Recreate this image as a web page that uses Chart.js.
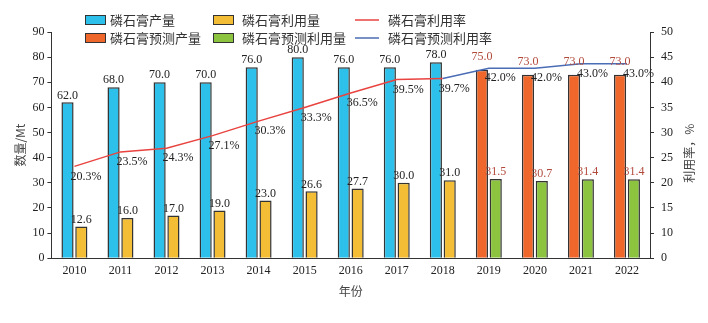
<!DOCTYPE html>
<html>
<head>
<meta charset="utf-8">
<script src="https://cdn.jsdelivr.net/npm/chart.js@4.4.0/dist/chart.umd.min.js"></script>
<style>
body { margin: 0; background: #fff; }
#chart-container { width: 708px; height: 323px; }
</style>
</head>
<body>
<div id="chart-container"><canvas id="mycanvas"></canvas></div>
<script>
var years = ['2010', '2011', '2012', '2013', '2014', '2015', '2016', '2017', '2018', '2019', '2020', '2021', '2022'];
var production = [62.0, 68.0, 70.0, 70.0, 76.0, 80.0, 76.0, 76.0, 78.0, null, null, null, null];
var utilization = [12.6, 16.0, 17.0, 19.0, 23.0, 26.6, 27.7, 30.0, 31.0, null, null, null, null];
var forecastProduction = [null, null, null, null, null, null, null, null, null, 75.0, 73.0, 73.0, 73.0];
var forecastUtilization = [null, null, null, null, null, null, null, null, null, 31.5, 30.7, 31.4, 31.4];
var rate = [20.3, 23.5, 24.3, 27.1, 30.3, 33.3, 36.5, 39.5, 39.7, null, null, null, null];
var forecastRate = [null, null, null, null, null, null, null, null, 39.7, 42.0, 42.0, 43.0, 43.0];
var rightTickLabels = ['0', '10', '15', '20', '25', '30', '35', '40', '45', '50'];

var serif = '"Liberation Serif", "Noto Sans CJK SC", serif';
var cjk = '"Noto Sans CJK SC", sans-serif';

// labels over bars and next to line points
var valueLabels = {
    id: 'valueLabels',
    afterDatasetsDraw: function (chart) {
        var ctx = chart.ctx;
        ctx.save();
        ctx.font = '12px ' + serif;
        chart.data.datasets.forEach(function (ds, i) {
            var meta = chart.getDatasetMeta(i);
            meta.data.forEach(function (el, j) {
                var v = ds.data[j];
                if (v === null || v === undefined) return;
                if (ds.type === 'line') {
                    if (ds.hideFirst && j === ds.data.findIndex(function (d) { return d !== null; })) return;
                    ctx.fillStyle = '#222';
                    ctx.textAlign = 'left';
                    ctx.textBaseline = 'top';
                    ctx.fillText(v.toFixed(1) + '%', el.x - 4, el.y + 4);
                } else {
                    ctx.fillStyle = ds.labelColor;
                    ctx.textAlign = 'center';
                    ctx.textBaseline = 'bottom';
                    ctx.fillText(v.toFixed(1), el.x, el.y - 1 - (ds.labelLift || 0));
                }
            });
        });
        ctx.restore();
    }
};

// two-row legend, three columns, plus the right axis title read upward
var legendRows = {
    id: 'legendRows',
    afterDraw: function (chart) {
        var ctx = chart.ctx;
        var boxX = [85, 213, 355];
        var textX = [110, 242, 388];
        var rowY = [20, 38];
        var order = [0, 1, 4, 2, 3, 5];
        ctx.save();
        ctx.font = '13px ' + cjk;
        ctx.textBaseline = 'middle';
        ctx.textAlign = 'left';
        order.forEach(function (di, k) {
            var ds = chart.data.datasets[di];
            var col = k % 3, row = Math.floor(k / 3);
            var y = rowY[row];
            if (ds.type === 'line') {
                ctx.strokeStyle = ds.borderColor;
                ctx.lineWidth = 1.5;
                ctx.beginPath();
                ctx.moveTo(boxX[col], y);
                ctx.lineTo(boxX[col] + 24, y);
                ctx.stroke();
            } else {
                ctx.fillStyle = ds.backgroundColor;
                ctx.fillRect(boxX[col], y - 5, 21, 10);
                ctx.strokeStyle = '#333';
                ctx.lineWidth = 1;
                ctx.strokeRect(boxX[col] + 0.5, y - 4.5, 20, 9);
            }
            ctx.fillStyle = '#333';
            ctx.fillText(ds.label, textX[col], y);
        });

        var area = chart.chartArea;
        ctx.translate(689, (area.top + area.bottom) / 2 + 8);
        ctx.rotate(-Math.PI / 2);
        ctx.textAlign = 'center';
        ctx.font = '12px ' + cjk;
        ctx.fillStyle = '#444';
        ctx.fillText('利用率，%', 0, 0);
        ctx.restore();
    }
};

var barStyle = {
    borderColor: '#333',
    borderWidth: 1.5,
    skipNull: true,
    categoryPercentage: 0.6,
    barPercentage: 0.88,
    order: 2
};

var chartdata = {
    labels: years,
    datasets: [
        Object.assign({ type: 'bar', label: '磷石膏产量', data: production, backgroundColor: '#2cc0ea', labelColor: '#222', yAxisID: 'y' }, barStyle),
        Object.assign({ type: 'bar', label: '磷石膏利用量', data: utilization, backgroundColor: '#f3be35', labelColor: '#222', yAxisID: 'y' }, barStyle),
        Object.assign({ type: 'bar', label: '磷石膏预测产量', data: forecastProduction, backgroundColor: '#f0672b', labelColor: '#b24a3c', labelLift: 6, yAxisID: 'y' }, barStyle),
        Object.assign({ type: 'bar', label: '磷石膏预测利用量', data: forecastUtilization, backgroundColor: '#8dc43f', labelColor: '#b24a3c', yAxisID: 'y' }, barStyle),
        { type: 'line', label: '磷石膏利用率', data: rate, borderColor: '#e8433f', borderWidth: 1.5, pointRadius: 0, yAxisID: 'y1', order: 0 },
        { type: 'line', label: '磷石膏预测利用率', data: forecastRate, borderColor: '#4a6db5', borderWidth: 1.5, pointRadius: 0, yAxisID: 'y1', order: 0, hideFirst: true }
    ]
};

var ctx = document.getElementById('mycanvas');
var barGraph = new Chart(ctx, {
    data: chartdata,
    plugins: [valueLabels, legendRows],
    options: {
        responsive: true,
        maintainAspectRatio: false,
        animation: false,
        layout: { padding: { top: 32, left: 13, right: 28, bottom: 24 } },
        plugins: {
            legend: { display: false },
            tooltip: { enabled: false }
        },
        scales: {
            x: {
                grid: { display: false, drawTicks: false },
                border: { display: true, color: '#333', width: 1 },
                ticks: { color: '#222', font: { family: serif, size: 12 }, padding: 5 },
                title: { display: true, text: '年份', color: '#444', font: { family: cjk, size: 12 }, padding: { top: 2, bottom: 0 } }
            },
            y: {
                position: 'left',
                min: 0,
                max: 90,
                ticks: { stepSize: 10, color: '#222', font: { family: serif, size: 12 }, padding: 3 },
                grid: { drawOnChartArea: false, drawTicks: true, tickLength: 4, color: '#333' },
                border: { display: true, color: '#333', width: 1 },
                title: { display: true, text: '数量/Mt', color: '#444', font: { family: cjk, size: 12 }, padding: { top: 0, bottom: 2 } }
            },
            y1: {
                position: 'right',
                min: 0,
                max: 50,
                afterBuildTicks: function (scale) {
                    scale.ticks = rightTickLabels.map(function (t, i) {
                        return { value: i * 50 / (rightTickLabels.length - 1) };
                    });
                },
                ticks: {
                    color: '#222',
                    font: { family: serif, size: 12 },
                    padding: 7,
                    callback: function (value, index) { return rightTickLabels[index]; }
                },
                grid: { drawOnChartArea: false, drawTicks: true, tickLength: 4, color: '#333' },
                border: { display: true, color: '#333', width: 1 }
            }
        }
    }
});
</script>
</body>
</html>
